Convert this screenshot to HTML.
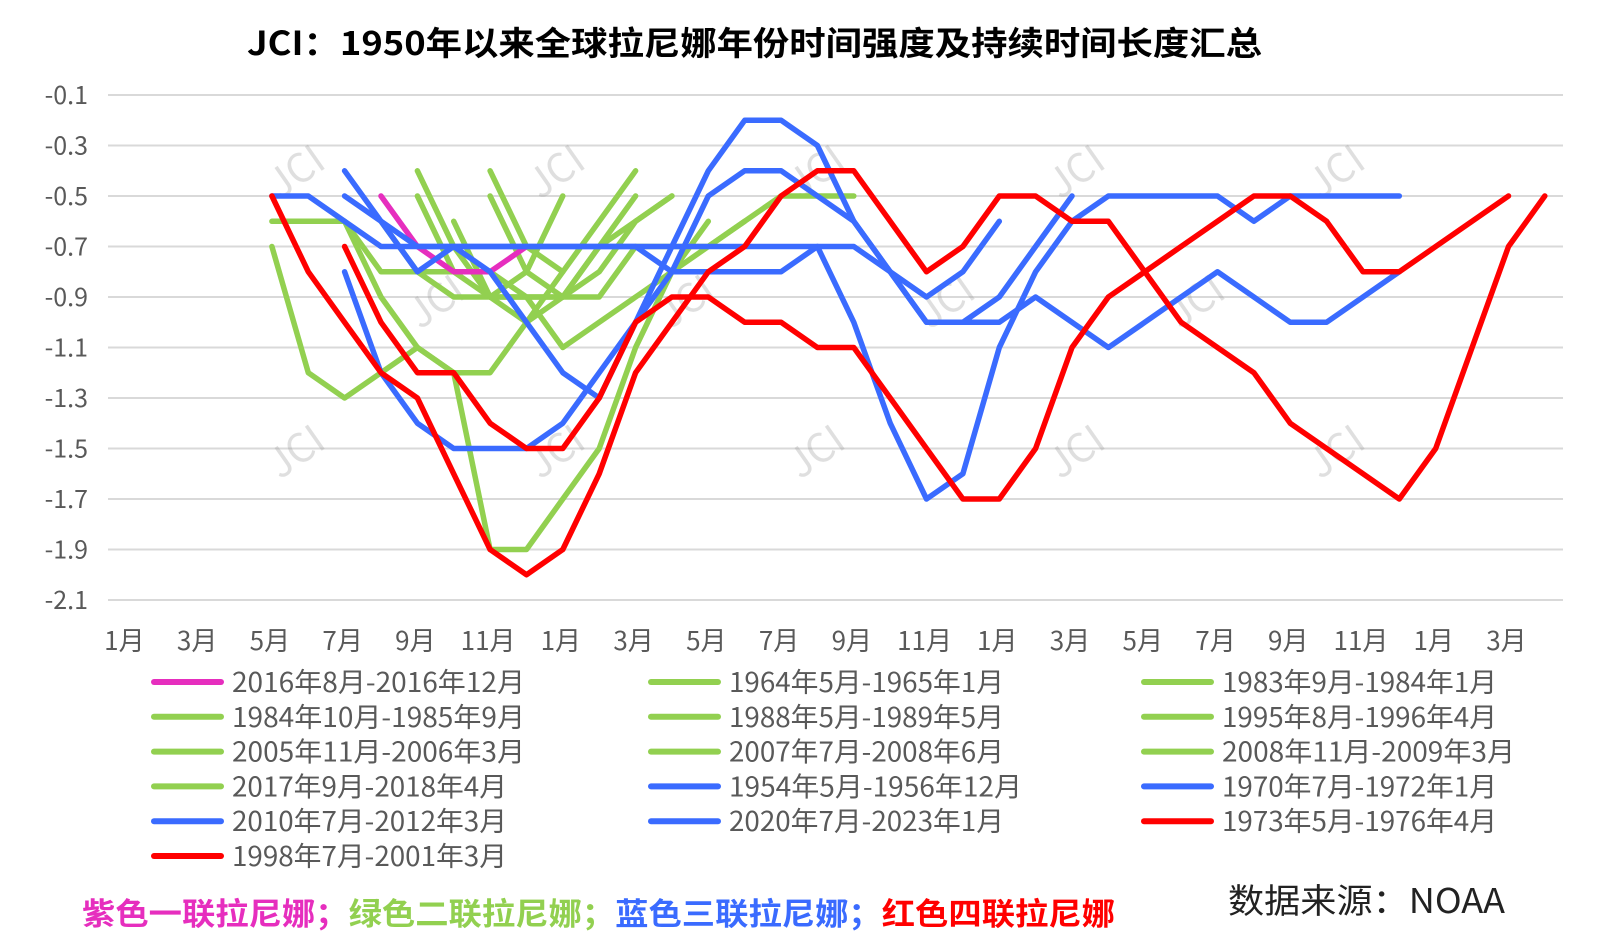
<!DOCTYPE html>
<html><head><meta charset="utf-8">
<style>
html,body{margin:0;padding:0;background:#fff;}
svg{display:block;}
text{font-family:"Noto Sans CJK SC","Liberation Sans",sans-serif;}
</style></head>
<body>
<svg id="c" width="1604" height="947" xmlns="http://www.w3.org/2000/svg"></svg>
<script>
const svg=document.getElementById('c');
const NS='http://www.w3.org/2000/svg';
function el(t,a,txt){const e=document.createElementNS(NS,t);for(const k in a)e.setAttribute(k,a[k]);if(txt!==undefined)e.textContent=txt;svg.appendChild(e);return e;}
const X=i=>126.4+36.37*i;
const Y=v=>95+(-0.1-v)*252.5;
el('text',{x:247,y:55,'font-size':33,'font-weight':'bold',fill:'#000',textLength:1015,lengthAdjust:'spacingAndGlyphs'},'JCI：1950年以来全球拉尼娜年份时间强度及持续时间长度汇总');
for(let k=0;k<11;k++){const v=-0.1-0.2*k;const y=Y(v);
 el('line',{x1:108,x2:1563,y1:y,y2:y,stroke:'#d9d9d9','stroke-width':2});
 el('text',{x:88,y:y+9,'text-anchor':'end','font-size':25,fill:'#595959'},v.toFixed(1));}
for(let i=0;i<40;i+=2){const m=(i%12)+1;el('text',{x:X(i)-2,y:650,'text-anchor':'middle','font-size':26,fill:'#595959'},m+'月');}
const wm=[[280,200],[540,200],[800,200],[1060,200],[1320,200],[420,330],[670,330],[930,330],[1180,330],[280,480],[540,480],[800,480],[1060,480],[1320,480]];
wm.forEach(([x,y])=>{const g=document.createElementNS(NS,'g');g.setAttribute('transform',`translate(${x},${y}) rotate(-35)`);g.setAttribute('opacity','0.3');
 const t=document.createElementNS(NS,'text');t.setAttribute('font-size','40');t.setAttribute('fill','#999');t.textContent='JCI';g.appendChild(t);svg.appendChild(g);});
const G='#92D050',B='#3A6BFF',R='#FF0000',M='#E62EBE';
function S(c,st,vals){return {c,st,vals};}
const series=[
 S(G,4,[-0.6,-0.6,-0.6,-0.9,-1.1,-1.2,-1.2,-1.0,-0.8]),
 S(G,4,[-0.7,-1.2,-1.3,-1.2,-1.1,-1.2,-1.9,-1.9,-1.7,-1.5,-1.1,-0.8,-0.6]),
 S(G,8,[-0.4,-0.7,-0.9,-0.8,-0.5]),
 S(G,8,[-0.5,-0.8,-0.9,-1.0,-0.9,-0.8,-0.6,-0.5]),
 S(G,9,[-0.6,-0.9,-0.9,-1.1,-1.0,-0.9,-0.8,-0.7,-0.6,-0.5,-0.5,-0.5]),
 S(G,7,[-0.6,-0.8,-0.9,-0.9,-0.9,-0.9,-0.7,-0.6,-0.5]),
 S(G,10,[-0.4,-0.7,-0.8,-0.6,-0.4]),
 S(G,10,[-0.5,-0.8,-0.9,-0.7,-0.5]),
 S(G,6,[-0.6,-0.8,-0.8,-0.8,-0.8,-0.9,-0.9,-0.9,-0.7,-0.7,-0.7,-0.6]),
 S(M,7,[-0.5,-0.7,-0.8,-0.8,-0.7]),
 S(B,4,[-0.5,-0.5,-0.6,-0.7,-0.7,-0.7,-0.7,-0.7,-0.7,-0.7,-0.7,-0.8,-0.8,-0.8,-0.8,-0.7,-1.0,-1.4,-1.7,-1.6,-1.1,-0.8,-0.6,-0.5,-0.5,-0.5,-0.5,-0.6,-0.5,-0.5,-0.5,-0.5]),
 S(B,6,[-0.8,-1.2,-1.4,-1.5,-1.5,-1.5,-1.4,-1.2,-1.0,-0.8,-0.5,-0.4,-0.4,-0.5,-0.6,-0.8,-0.9,-0.8,-0.6]),
 S(B,6,[-0.5,-0.6,-0.7,-0.7,-0.7,-0.7,-0.7,-0.7,-0.7,-0.7,-0.7,-0.7,-0.7,-0.7,-0.7,-0.8,-1.0,-1.0,-0.9,-0.7,-0.5]),
 S(B,6,[-0.4,-0.6,-0.8,-0.7,-0.8,-1.0,-1.2,-1.3,-1.0,-0.7,-0.4,-0.2,-0.2,-0.3,-0.6,-0.8,-1.0,-1.0,-1.0,-0.9,-1.0,-1.1,-1.0,-0.9,-0.8,-0.9,-1.0,-1.0,-0.9,-0.8]),
 S(R,4,[-0.5,-0.8,-1.0,-1.2,-1.3,-1.6,-1.9,-2.0,-1.9,-1.6,-1.2,-1.0,-0.8,-0.7,-0.5,-0.4,-0.4,-0.6,-0.8,-0.7,-0.5,-0.5,-0.6,-0.6,-0.8,-1.0,-1.1,-1.2,-1.4,-1.5,-1.6,-1.7,-1.5,-1.1,-0.7,-0.5]),
 S(R,6,[-0.7,-1.0,-1.2,-1.2,-1.4,-1.5,-1.5,-1.3,-1.0,-0.9,-0.9,-1.0,-1.0,-1.1,-1.1,-1.3,-1.5,-1.7,-1.7,-1.5,-1.1,-0.9,-0.8,-0.7,-0.6,-0.5,-0.5,-0.6,-0.8,-0.8,-0.7,-0.6,-0.5])
];
series.forEach(s=>{const p=s.vals.map((v,k)=>X(s.st+k).toFixed(1)+','+Y(v).toFixed(1)).join(' ');
 el('polyline',{points:p,fill:'none',stroke:s.c,'stroke-width':5.5,'stroke-linejoin':'round','stroke-linecap':'round'});});
const leg=[[M,'2016年8月-2016年12月'],[G,'1964年5月-1965年1月'],[G,'1983年9月-1984年1月'],
[G,'1984年10月-1985年9月'],[G,'1988年5月-1989年5月'],[G,'1995年8月-1996年4月'],
[G,'2005年11月-2006年3月'],[G,'2007年7月-2008年6月'],[G,'2008年11月-2009年3月'],
[G,'2017年9月-2018年4月'],[B,'1954年5月-1956年12月'],[B,'1970年7月-1972年1月'],
[B,'2010年7月-2012年3月'],[B,'2020年7月-2023年1月'],[R,'1973年5月-1976年4月'],
[R,'1998年7月-2001年3月']];
const cx=[154,651,1144];
leg.forEach(([c,t],k)=>{const r=Math.floor(k/3),col=k%3;const y=682+r*34.8;const x=cx[col];
 el('line',{x1:x,x2:x+67,y1:y,y2:y,stroke:c,'stroke-width':6,'stroke-linecap':'round'});
 el('text',{x:x+78,y:y+10,'font-size':27,fill:'#595959',textLength:(t.length*18.3).toFixed(0),lengthAdjust:'spacingAndGlyphs'},t);});
const bt=el('text',{x:82,y:925,'font-size':31,'font-weight':'bold',textLength:1033,lengthAdjust:'spacingAndGlyphs'});
[[M,'紫色一联拉尼娜；'],[G,'绿色二联拉尼娜；'],[B,'蓝色三联拉尼娜；'],[R,'红色四联拉尼娜']].forEach(([c,t])=>{const s=document.createElementNS(NS,'tspan');s.setAttribute('fill',c);s.textContent=t;bt.appendChild(s);});
el('text',{x:1228,y:913,'font-size':34,fill:'#222',textLength:277,lengthAdjust:'spacingAndGlyphs'},'数据来源：NOAA');
</script>
</body></html>
